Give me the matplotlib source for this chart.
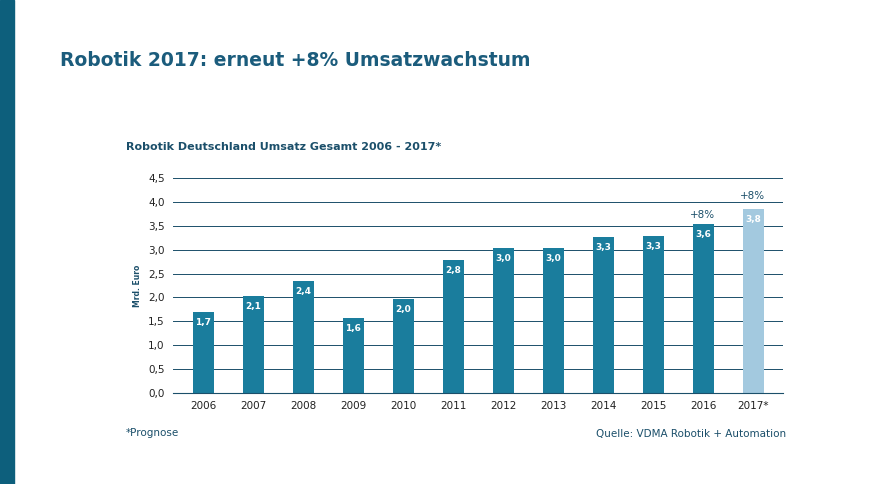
import matplotlib.pyplot as plt
from matplotlib.patches import Rectangle

years = ["2006", "2007", "2008", "2009", "2010", "2011", "2012", "2013", "2014", "2015", "2016", "2017*"]
values = [1.69, 2.03, 2.34, 1.57, 1.97, 2.78, 3.03, 3.03, 3.26, 3.28, 3.54, 3.85]
labels = ["1,7", "2,1", "2,4", "1,6", "2,0", "2,8", "3,0", "3,0", "3,3", "3,3", "3,6", "3,8"]
yticks = [0, 0.5, 1.0, 1.5, 2.0, 2.5, 3.0, 3.5, 4.0, 4.5]

W, H = 889, 484
fig = plt.figure(figsize=(W / 100, H / 100), dpi=100)
fig.patches.append(Rectangle((0, 0), 14 / W, 1, transform=fig.transFigure, color="#0d5f7c"))

teal = "#1a7d9d"
dark = "#1b4f6a"
fig.text(60 / W, 1 - 60 / H, "Robotik 2017: erneut +8% Umsatzwachstum", fontsize=13.5,
         fontweight="bold", color="#1b5c7c", va="center")
fig.text(126 / W, 1 - 147 / H, "Robotik Deutschland Umsatz Gesamt 2006 - 2017*", fontsize=8,
         fontweight="bold", color=dark, va="center")

ax = fig.add_axes([173 / W, 1 - 393 / H, 610 / W, 215 / H])
colors = [teal] * 11 + ["#a3c9df"]
x = range(len(years))
ax.bar(x, values, width=0.42, color=colors, zorder=2)
for xi, v, lab in zip(x, values, labels):
    ax.text(xi, v - 0.13, lab, ha="center", va="top", color="white", fontsize=6.5, fontweight="bold")
ax.text(10, values[10] + 0.08, "+8%", ha="center", va="bottom", color=dark, fontsize=7.5)
ax.text(11, 4.02, "+8%", ha="center", va="bottom", color=dark, fontsize=7.5)

ax.set_ylim(0, 4.5)
ax.set_xlim(-0.6, 11.6)
ax.set_yticks(yticks)
ax.set_yticklabels([f"{t:.1f}".replace(".", ",") for t in yticks], fontsize=7.5, color="#222222")
ax.set_xticks(list(x))
ax.set_xticklabels(years, fontsize=7.5, color="#222222")
ax.yaxis.grid(True, color=dark, linewidth=0.7, zorder=0)
ax.tick_params(length=0, pad=6)
for s in ["top", "right", "left"]:
    ax.spines[s].set_visible(False)
ax.spines["bottom"].set_color(dark)
ax.set_ylabel("Mrd. Euro", fontsize=5.5, fontweight="bold", color=dark, labelpad=4)

fig.text(126 / W, 1 - 433 / H, "*Prognose", fontsize=7.5, color=dark, va="center")
fig.text(786 / W, 1 - 434 / H, "Quelle: VDMA Robotik + Automation", fontsize=7.5, color=dark,
         va="center", ha="right")

fig.savefig("out.png", dpi=100)
